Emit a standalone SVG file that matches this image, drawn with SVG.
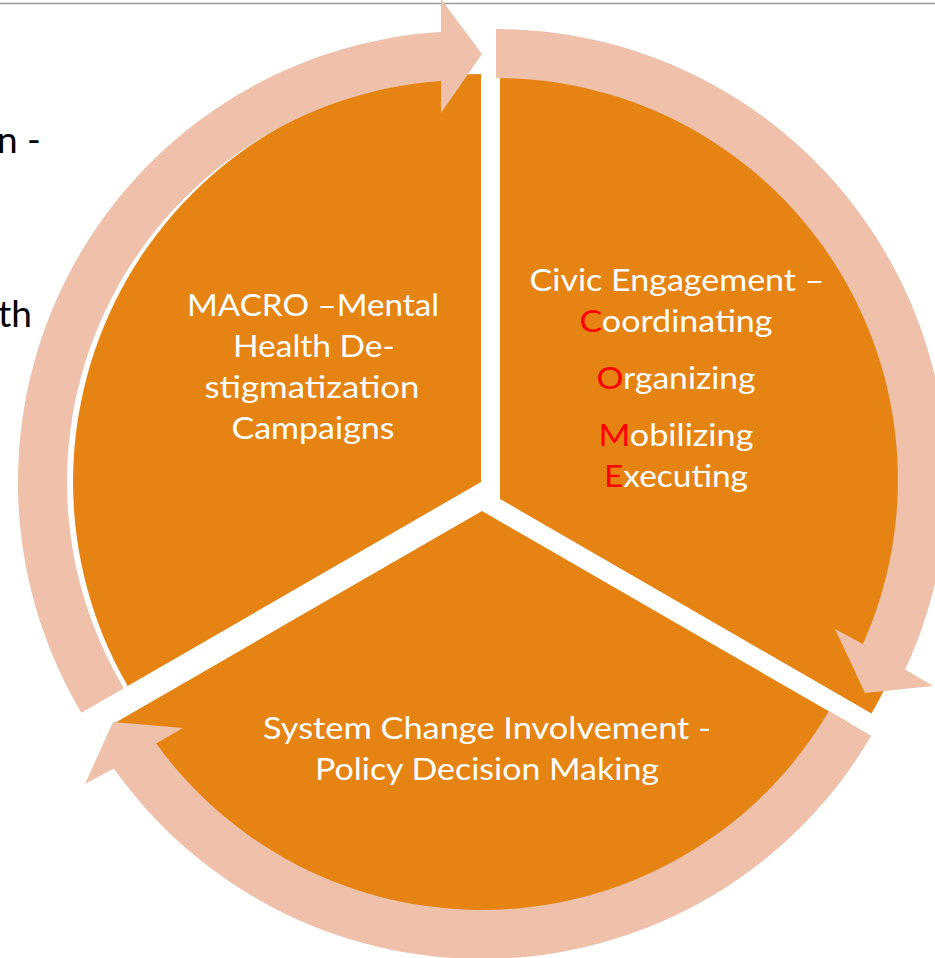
<svg xmlns="http://www.w3.org/2000/svg" width="935" height="958" viewBox="0 0 935 958">
<style>
.seg{fill:#E68413;}
.arr{fill:#F0C1AA;}
.lbl{font-family:Lato,"Liberation Sans",sans-serif;font-size:31px;fill:#FFFFFF;text-anchor:middle;}
.red{fill:#FF0000;}
.bg{font-family:Lato,"Liberation Sans",sans-serif;font-size:37px;fill:#000000;}
</style>
<rect x="0" y="0" width="935" height="958" fill="#FFFFFF"/>
<line x1="0" y1="3.5" x2="935" y2="3.5" stroke="#9A9A9A" stroke-width="1.5"/>
<text class="bg" x="-3" y="153">n -</text>
<text class="bg" x="-2" y="327">th</text>

<g id="node-macro">
<path class="seg" d="M481,482 L127.7,686 A408,408 0 0 1 481,74 Z"/>
<text class="lbl" x="313" y="316" textLength="252" lengthAdjust="spacingAndGlyphs">MACRO –Mental</text>
<text class="lbl" x="314" y="357" textLength="162" lengthAdjust="spacingAndGlyphs">Health De-</text>
<text class="lbl" x="312" y="398" textLength="215" lengthAdjust="spacingAndGlyphs">stigmatization</text>
<text class="lbl" x="313" y="439" textLength="163" lengthAdjust="spacingAndGlyphs">Campaigns</text>
</g>

<g id="node-civic">
<path class="seg" d="M500,499 L500,70 A429,429 0 0 1 871.5,713.5 Z"/>
<text class="lbl" x="677" y="291" textLength="295" lengthAdjust="spacingAndGlyphs">Civic Engagement –</text>
<text class="lbl" x="676" y="332" textLength="193" lengthAdjust="spacingAndGlyphs"><tspan class="red">C</tspan>oordinating</text>
<text class="lbl" x="676" y="389" textLength="159" lengthAdjust="spacingAndGlyphs"><tspan class="red">O</tspan>rganizing</text>
<text class="lbl" x="676" y="446" textLength="155" lengthAdjust="spacingAndGlyphs"><tspan class="red">M</tspan>obilizing</text>
<text class="lbl" x="676" y="487" textLength="144" lengthAdjust="spacingAndGlyphs"><tspan class="red">E</tspan>xecuting</text>
</g>

<g id="node-system">
<path class="seg" d="M482,511 L850.1,723.5 A425,425 0 0 1 113.9,723.5 Z"/>
<text class="lbl" x="487" y="739" textLength="448" lengthAdjust="spacingAndGlyphs">System Change Involvement -</text>
<text class="lbl" x="487" y="780" textLength="344" lengthAdjust="spacingAndGlyphs">Policy Decision Making</text>
</g>

<g id="connectors">
<path id="arrow-macro-civic" class="arr" d="M81.4,712.7 A451,451 0 0 1 441,31.9 L441,-1 L482,54 L441,113 L441,81 A402,402 0 0 0 123.9,688.2 Z"/>
<path id="arrow-civic-system" class="arr" d="M496,29 A451,451 0 0 1 905.2,669.6 L933,686 L865,693 L835,629 L862.9,644 A402,402 0 0 0 496,78 Z"/>
<path id="arrow-system-macro" class="arr" d="M871.3,735.7 A451,451 0 0 1 113.8,768.4 L85,784 L113,722 L183,728 L156.2,743.5 A402,402 0 0 0 828.8,711.2 Z"/>
</g>
</svg>
